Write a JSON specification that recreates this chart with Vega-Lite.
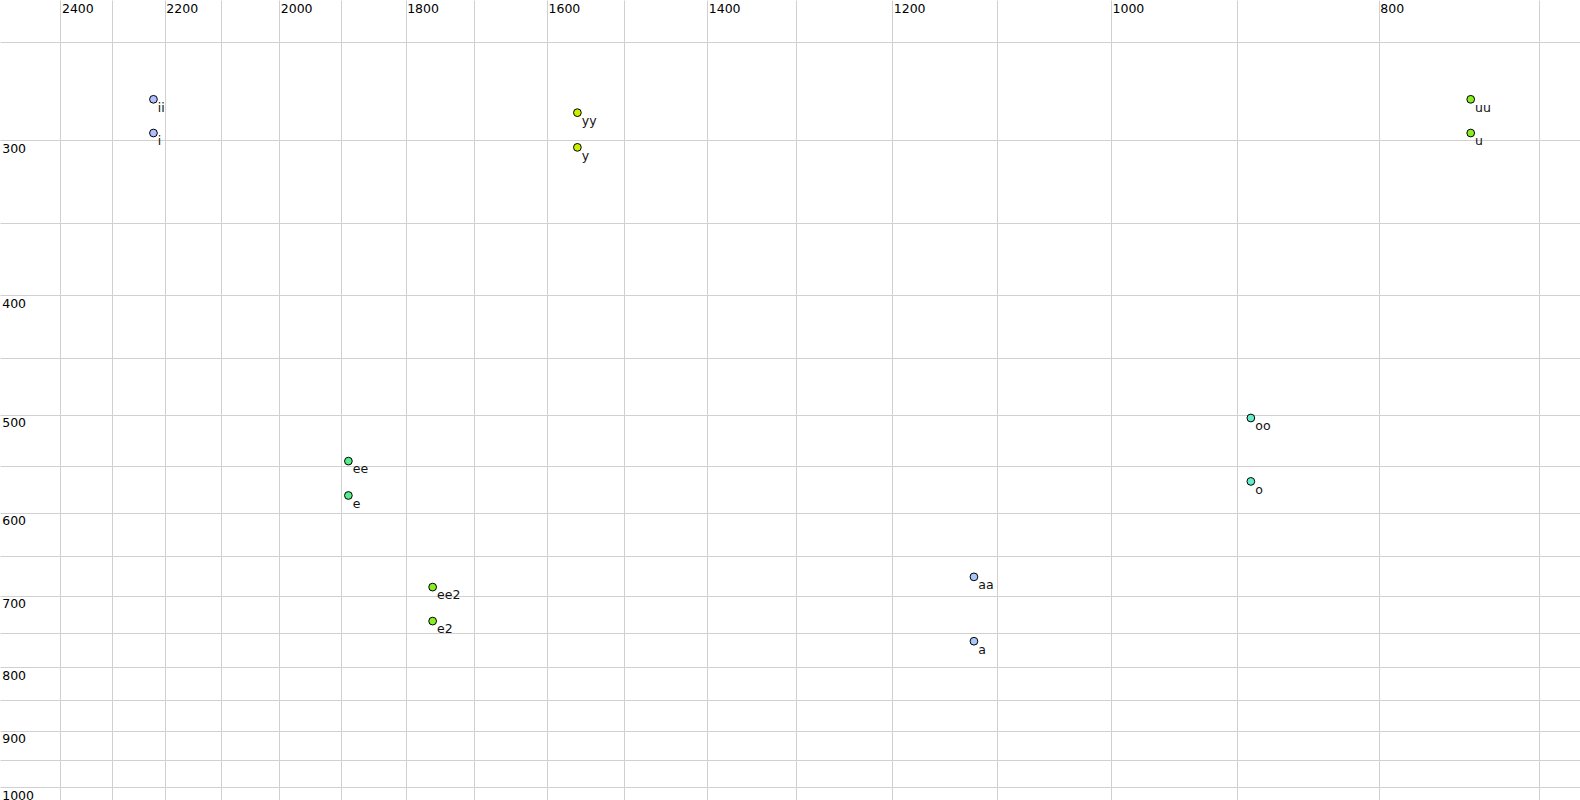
{
  "$schema": "https://vega.github.io/schema/vega-lite/v6.json",
  "width": 1580,
  "height": 800,
  "autosize": {"type": "none"},
  "padding": 0,
  "background": "white",
  "config": {"view": {"stroke": null}, "font": "DejaVu Sans"},
  "data": {
    "values": [
      {"label": "ii", "group": "i", "F2": 2221, "F1": 278},
      {"label": "i", "group": "i", "F2": 2221, "F1": 296},
      {"label": "yy", "group": "y", "F2": 1560, "F1": 285},
      {"label": "y", "group": "y", "F2": 1560, "F1": 304},
      {"label": "uu", "group": "u", "F2": 741, "F1": 278},
      {"label": "u", "group": "u", "F2": 741, "F1": 296},
      {"label": "ee", "group": "e", "F2": 1888, "F1": 545},
      {"label": "e", "group": "e", "F2": 1888, "F1": 581},
      {"label": "ee2", "group": "e2", "F2": 1760, "F1": 689},
      {"label": "e2", "group": "e2", "F2": 1760, "F1": 734},
      {"label": "aa", "group": "a", "F2": 1121, "F1": 676},
      {"label": "a", "group": "a", "F2": 1121, "F1": 762},
      {"label": "oo", "group": "o", "F2": 890, "F1": 503},
      {"label": "o", "group": "o", "F2": 890, "F1": 566}
    ]
  },
  "encoding": {
    "x": {
      "field": "F2",
      "type": "quantitative",
      "scale": {"type": "log", "domain": [676.5, 2524], "reverse": true, "nice": false, "zero": false},
      "axis": {
        "orient": "top",
        "title": null,
        "values": [700, 800, 900, 1000, 1100, 1200, 1300, 1400, 1500, 1600, 1700, 1800, 1900, 2000, 2100, 2200, 2300, 2400],
        "labelExpr": "datum.value % 200 == 0 ? format(datum.value, 'd') : ''",
        "domain": false,
        "ticks": false,
        "tickSize": 0,
        "labelAlign": "left",
        "labelBaseline": "alphabetic",
        "labelPadding": -12.4,
        "labelOffset": 1,
        "labelFlush": false,
        "labelOverlap": false,
        "labelFontSize": 12.5,
        "labelColor": "#000000",
        "labelFont": "DejaVu Sans",
        "gridColor": "#d0d0d0",
        "gridWidth": 1
      }
    },
    "y": {
      "field": "F1",
      "type": "quantitative",
      "scale": {"type": "log", "domain": [231.1, 1023.9], "reverse": true, "nice": false, "zero": false},
      "axis": {
        "orient": "left",
        "title": null,
        "values": [250, 300, 350, 400, 450, 500, 550, 600, 650, 700, 750, 800, 850, 900, 950, 1000],
        "labelExpr": "datum.value % 100 == 0 ? format(datum.value, 'd') : ''",
        "domain": false,
        "ticks": false,
        "tickSize": 0,
        "labelAlign": "left",
        "labelBaseline": "alphabetic",
        "labelPadding": -1.7,
        "labelOffset": 12.2,
        "labelFlush": false,
        "labelOverlap": false,
        "labelFontSize": 12.5,
        "labelColor": "#000000",
        "labelFont": "DejaVu Sans",
        "gridColor": "#d0d0d0",
        "gridWidth": 1
      }
    }
  },
  "layer": [
    {
      "mark": {"type": "circle", "size": 60, "opacity": 1, "stroke": "#000000", "strokeWidth": 1},
      "encoding": {
        "fill": {
          "field": "group",
          "type": "nominal",
          "scale": {
            "domain": ["i", "y", "u", "e", "e2", "a", "o"],
            "range": ["#b0c0ff", "#ccee00", "#88ee22", "#55ee88", "#88ee22", "#a8c8f8", "#66eecc"]
          },
          "legend": null
        }
      }
    },
    {
      "mark": {"type": "text", "align": "left", "baseline": "alphabetic", "dx": 4.4, "dy": 12.3, "fontSize": 12.5, "font": "DejaVu Sans", "color": "#111111"},
      "encoding": {"text": {"field": "label", "type": "nominal"}}
    }
  ]
}
